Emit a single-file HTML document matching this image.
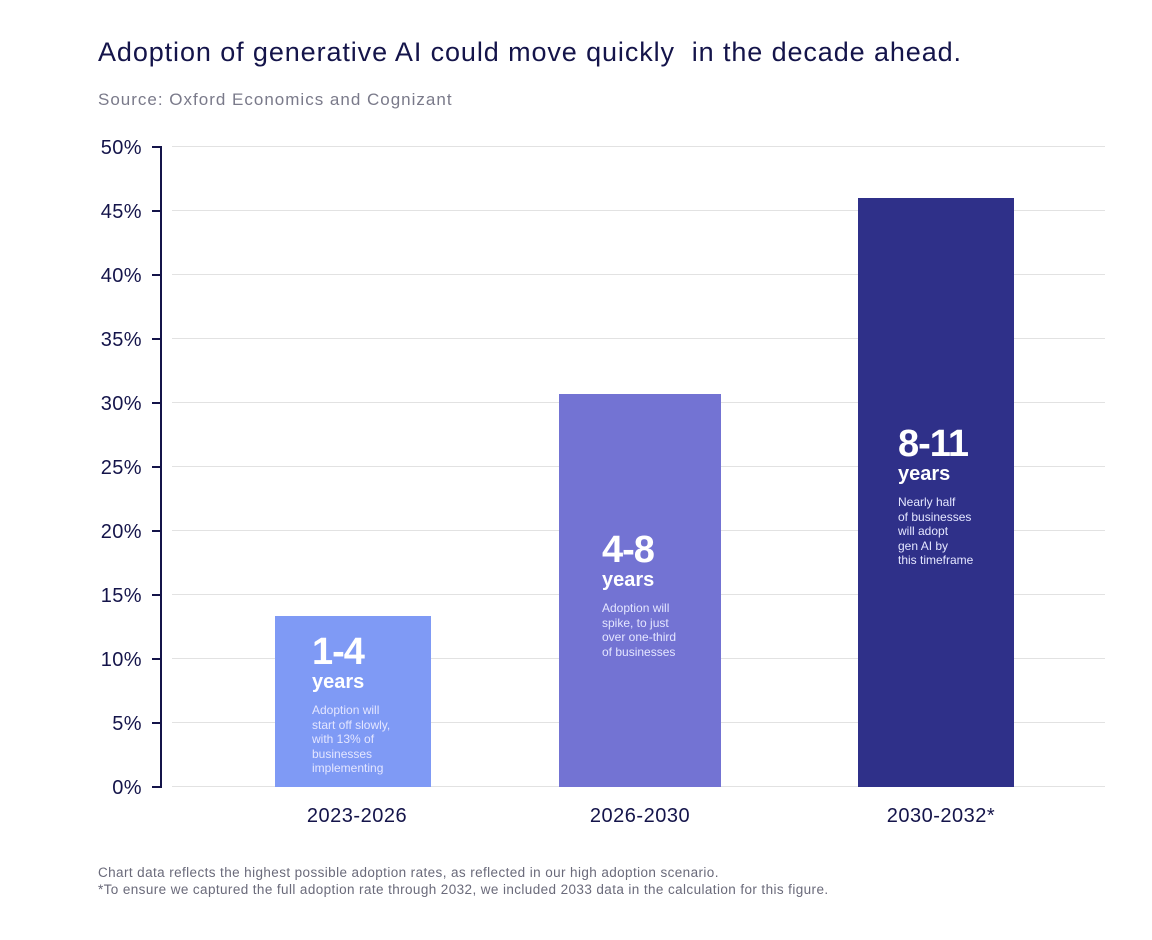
<!DOCTYPE html>
<html><head><meta charset="utf-8"><style>
body{margin:0;background:#fff;width:1152px;height:940px;position:relative;font-family:"Liberation Sans",sans-serif;color:#14144a;overflow:hidden}
.a{position:absolute;white-space:nowrap}
.yl{position:absolute;right:1010px;font-size:20px;color:#14144a;letter-spacing:0.4px}
.grid{position:absolute;left:172px;width:933px;height:1px;background:#e2e2e2}
.tick{position:absolute;left:152px;width:9px;height:2px;background:#14144a}
.bar{position:absolute;bottom:153px}
.big{font-size:38px;font-weight:bold;color:#fff;line-height:38px;letter-spacing:-1px}
.yr{font-size:20px;font-weight:bold;color:#fff;line-height:22px}
.sm{font-size:12px;line-height:14.5px;color:#e4e6ff;margin-top:10px}
.xl{position:absolute;top:805px;font-size:20px;color:#14144a;text-align:center;width:200px;letter-spacing:0.5px}
</style></head><body>
<div class="a" style="left:98px;top:37px;font-size:27px;letter-spacing:0.9px">Adoption of generative AI could move quickly &nbsp;in the decade ahead.</div>
<div class="a" style="left:98px;top:90px;font-size:17px;letter-spacing:1px;color:#7a7a8a">Source: Oxford Economics and Cognizant</div>

<div style="position:absolute;left:160px;top:146px;width:2px;height:642px;background:#14144a"></div>

<div class="grid" style="top:146px"></div><div class="tick" style="top:146px"></div><div class="yl" style="top:137px">50%</div>
<div class="grid" style="top:210px"></div><div class="tick" style="top:210px"></div><div class="yl" style="top:201px">45%</div>
<div class="grid" style="top:274px"></div><div class="tick" style="top:274px"></div><div class="yl" style="top:265px">40%</div>
<div class="grid" style="top:338px"></div><div class="tick" style="top:338px"></div><div class="yl" style="top:329px">35%</div>
<div class="grid" style="top:402px"></div><div class="tick" style="top:402px"></div><div class="yl" style="top:393px">30%</div>
<div class="grid" style="top:466px"></div><div class="tick" style="top:466px"></div><div class="yl" style="top:457px">25%</div>
<div class="grid" style="top:530px"></div><div class="tick" style="top:530px"></div><div class="yl" style="top:521px">20%</div>
<div class="grid" style="top:594px"></div><div class="tick" style="top:594px"></div><div class="yl" style="top:585px">15%</div>
<div class="grid" style="top:658px"></div><div class="tick" style="top:658px"></div><div class="yl" style="top:649px">10%</div>
<div class="grid" style="top:722px"></div><div class="tick" style="top:722px"></div><div class="yl" style="top:713px">5%</div>
<div class="grid" style="top:786px"></div><div class="tick" style="top:786px"></div><div class="yl" style="top:777px">0%</div>

<div class="bar" style="left:275px;width:156px;top:616px;background:#7f9af5">
 <div style="position:absolute;left:37px;top:17px"><div class="big">1-4</div><div class="yr">years</div><div class="sm">Adoption will<br>start off slowly,<br>with 13% of<br>businesses<br>implementing</div></div>
</div>
<div class="bar" style="left:559px;width:162px;top:394px;background:#7373d3">
 <div style="position:absolute;left:43px;top:137px"><div class="big">4-8</div><div class="yr">years</div><div class="sm">Adoption will<br>spike, to just<br>over one-third<br>of businesses</div></div>
</div>
<div class="bar" style="left:858px;width:156px;top:198px;background:#2f3089">
 <div style="position:absolute;left:40px;top:227px"><div class="big">8-11</div><div class="yr">years</div><div class="sm">Nearly half<br>of businesses<br>will adopt<br>gen AI by<br>this timeframe</div></div>
</div>

<div class="xl" style="left:257px">2023-2026</div>
<div class="xl" style="left:540px">2026-2030</div>
<div class="xl" style="left:841px">2030-2032*</div>

<div class="a" style="left:98px;top:864px;font-size:13.5px;letter-spacing:0.4px;color:#6a6a7a;line-height:17px">Chart data reflects the highest possible adoption rates, as reflected in our high adoption scenario.<br>*To ensure we captured the full adoption rate through 2032, we included 2033 data in the calculation for this figure.</div>
</body></html>
